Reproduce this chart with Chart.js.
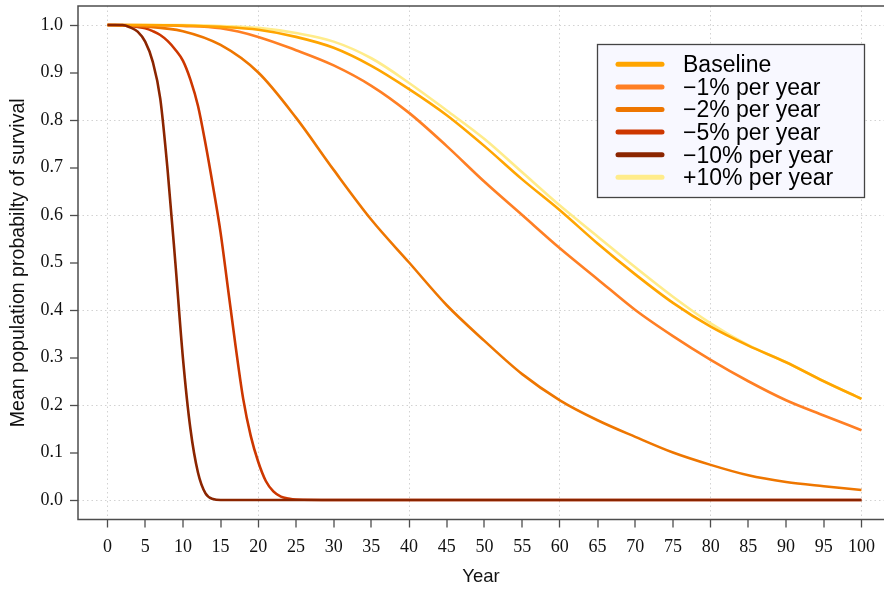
<!DOCTYPE html>
<html>
<head>
<meta charset="utf-8">
<script src="https://cdn.jsdelivr.net/npm/chart.js@4.4.0/dist/chart.umd.min.js"></script>
<style>
  html, body { margin: 0; padding: 0; background: #fff; }
</style>
</head>
<body>
<canvas id="chart" width="884" height="589"></canvas>
<script>
// ....data
const fineYears = [0,1,2,3,4,5,6,7,8,9,10,11,12,13,14,15,16,17,18,19,20,21,22,23,24,25,30,40,50,60,70,80,90,100];
const coarseYears = [0,5,10,15,20,25,30,35,40,45,50,55,60,65,70,75,80,85,90,95,100];

const baseline = [1,1,0.999,0.996,0.99,0.975,0.952,0.914,0.865,0.81,0.745,0.675,0.61,0.54,0.475,0.415,0.365,0.325,0.29,0.25,0.213];
const minus1 = [1,0.9995,0.998,0.993,0.975,0.947,0.915,0.872,0.815,0.745,0.67,0.6,0.53,0.465,0.4,0.345,0.295,0.25,0.21,0.178,0.147];
const minus2 = [1,0.997,0.987,0.958,0.9,0.805,0.695,0.59,0.5,0.41,0.335,0.265,0.21,0.168,0.133,0.1,0.074,0.052,0.038,0.029,0.021];
const minus5 = [1,1,0.999,0.998,0.996,0.993,0.987,0.979,0.966,0.948,0.925,0.885,0.83,0.75,0.66,0.563,0.443,0.323,0.213,0.135,0.08,0.04,0.018,0.007,0.003,0.001,0,0,0,0,0,0,0,0];
const minus10 = [1,1,1,0.995,0.986,0.965,0.923,0.845,0.69,0.5,0.3,0.15,0.058,0.014,0.002,0,0,0,0,0,0,0,0,0,0,0,0,0,0,0,0,0,0,0];
const plus10 = [1,1,1,0.998,0.994,0.983,0.965,0.93,0.878,0.82,0.76,0.69,0.62,0.555,0.49,0.428,0.372,0.326,0.29,0.25,0.213];

const xTicks = [0,5,10,15,20,25,30,35,40,45,50,55,60,65,70,75,80,85,90,95,100];
const yTicks = [0,0.1,0.2,0.3,0.4,0.5,0.6,0.7,0.8,0.9,1.0];

const labels = ["Baseline", "\u22121% per year", "\u22122% per year", "\u22125% per year", "\u221210% per year", "+10% per year"];
const colors = ["#FFA500", "#FF7F24", "#EE7600", "#CD3700", "#8B2500", "#FFEC8B"];

function pts(xs, ys){
  return xs.map(function(x, i){ return {x: x, y: ys[i]}; });
}

const series = [
  pts(coarseYears, baseline),
  pts(coarseYears, minus1),
  pts(coarseYears, minus2),
  pts(fineYears, minus5),
  pts(fineYears, minus10),
  pts(coarseYears, plus10)
];
// +10% goes under the baseline
const drawOrder = [2, 2, 2, 2, 1, 3];

const datasets = series.map(function(d, i){
  return {
    label: labels[i],
    data: d,
    borderColor: colors[i],
    backgroundColor: colors[i],
    borderWidth: 2.6,
    pointRadius: 0,
    fill: false,
    cubicInterpolationMode: 'monotone',
    order: drawOrder[i]
  };
});

const frameColor = "#4d4d4d";

//....axis frame (top, left, bottom)
const framePlugin = {
  id: 'frame',
  afterDatasetsDraw(chart){
    const a = chart.chartArea, c = chart.ctx;
    c.save();
    c.strokeStyle = frameColor;
    c.lineWidth = 1.5;
    c.beginPath();
    c.moveTo(chart.width, a.top);
    c.lineTo(a.left, a.top);
    c.lineTo(a.left, a.bottom);
    c.lineTo(chart.width, a.bottom);
    c.stroke();
    c.restore();
  }
};

//....legend box
const legendPlugin = {
  id: 'boxLegend',
  afterDraw(chart){
    const c = chart.ctx;
    c.save();
    c.fillStyle = "#F8F8FF";
    c.fillRect(597.5, 44.5, 267, 153);
    c.strokeStyle = "#444";
    c.lineWidth = 1.3;
    c.strokeRect(597.5, 44.5, 267, 153);
    c.font = "23px 'Liberation Sans', Arial, sans-serif";
    c.fillStyle = "#000";
    c.textBaseline = "alphabetic";
    labels.forEach(function(t, i){
      const y = 64.3 + i * 22.6;
      c.strokeStyle = colors[i];
      c.lineWidth = 5;
      c.lineCap = "round";
      c.beginPath();
      c.moveTo(618, y);
      c.lineTo(662, y);
      c.stroke();
      c.fillText(t, 683, y + 7.8);
    });
    c.restore();
  }
};

const tickFont = {family: "'Liberation Serif', 'Times New Roman', serif", size: 18};
const gridColor = "#d2d2d2";

function isMajorX(ctx){ return ctx.tick && ctx.tick.value % 20 === 0; }
function isMajorY(ctx){ return ctx.tick && Math.round(ctx.tick.value * 10) % 2 === 0; }

new Chart(document.getElementById("chart"), {
  type: 'line',
  data: {datasets: datasets},
  options: {
    responsive: false,
    animation: false,
    layout: {padding: {top: 6, left: 0, right: 0, bottom: 0}},
    plugins: {legend: {display: false}, tooltip: {enabled: false}},
    scales: {
      x: {
        type: 'linear',
        min: -3.91,
        max: 102.99,
        afterBuildTicks: function(s){ s.ticks = xTicks.map(function(v){ return {value: v}; }); },
        afterFit: function(s){ s.height = 69.5; s.paddingLeft = 0; s.paddingRight = 0; },
        ticks: {font: tickFont, color: "#111", padding: 9, maxRotation: 0, autoSkip: false,
          callback: function(v){ return String(v); }},
        grid: {
          color: function(ctx){ return isMajorX(ctx) ? gridColor : 'transparent'; },
          lineWidth: function(ctx){ return isMajorX(ctx) ? 1 : 0; },
          tickColor: frameColor, tickLength: 8, tickWidth: 1.3
        },
        border: {display: false, dash: [1.5, 3]},
        title: {display: true, text: "Year", color: "#111",
          font: {family: "'Liberation Sans', Arial, sans-serif", size: 18.5}, padding: {top: 0, bottom: 1}}
      },
      y: {
        min: -0.041,
        max: 1.04,
        afterBuildTicks: function(s){ s.ticks = yTicks.map(function(v){ return {value: v}; }); },
        afterFit: function(s){ s.width = 78; s.paddingTop = 0; s.paddingBottom = 0; },
        ticks: {font: tickFont, color: "#111", padding: 7,
          callback: function(v){ return Number(v).toFixed(1); }},
        grid: {
          color: function(ctx){ return isMajorY(ctx) ? gridColor : 'transparent'; },
          lineWidth: function(ctx){ return isMajorY(ctx) ? 1 : 0; },
          tickColor: frameColor, tickLength: 8, tickWidth: 1.3
        },
        border: {display: false, dash: [1.5, 3]},
        title: {display: true, text: "Mean population probabilty of survival", color: "#111",
          font: {family: "'Liberation Sans', Arial, sans-serif", size: 19.6}, padding: {top: 7, bottom: 0}}
      }
    }
  },
  plugins: [framePlugin, legendPlugin]
});
</script>
</body>
</html>
